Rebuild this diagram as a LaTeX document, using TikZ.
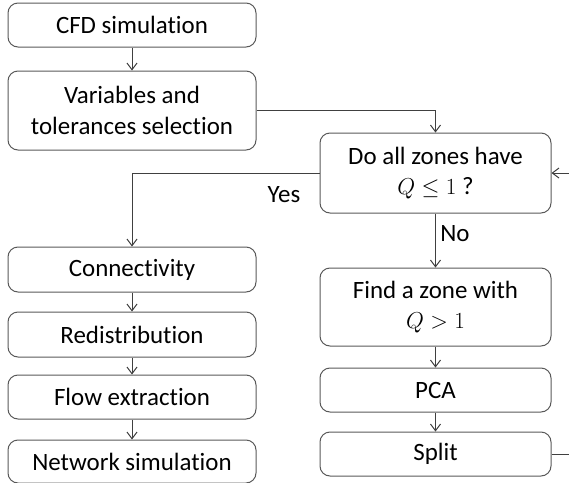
\documentclass[tikz,border=0pt]{standalone}
\usepackage{fontspec}
\setmainfont[Ligatures={NoCommon}]{Carlito}
\usepackage{amsmath}
\usetikzlibrary{arrows.meta,positioning}
\definecolor{frame}{RGB}{89,89,89}
\definecolor{wire}{RGB}{64,64,64}

\tikzset{
  stepbox/.style={draw=frame, line width=0.75pt, rounded corners=7.5pt, align=center,
    inner sep=0pt, font=\fontsize{18.7}{23}\selectfont},
  leftbox/.style={stepbox, minimum width=186pt},
  rightbox/.style={stepbox, minimum width=173.25pt},
  link/.style={draw=wire, line width=0.75pt, -{Straight Barb[length=5pt,width=7.5pt]}},
  lbl/.style={inner sep=0pt, font=\fontsize{18.7}{23}\selectfont}
}

\begin{document}
\begin{tikzpicture}[x=0.75pt,y=0.75pt,yscale=-1,xscale=1]
	\useasboundingbox (0,0) rectangle (569,483);

	% left column
	\node [leftbox, minimum height=33pt] (cfd) at (132,25) {CFD simulation};
	\node [leftbox, minimum height=59.25pt] (vars) at (132,110.5) {Variables and\\tolerances selection};
	\node [leftbox, minimum height=33.75pt] (conn) at (132,269.5) {Connectivity};
	\node [leftbox, minimum height=33.75pt] (redis) at (132,334.5) {Redistribution};
	\node [leftbox, minimum height=33pt] (flow) at (132,397) {Flow extraction};
	\node [leftbox, minimum height=32.25pt] (net) at (132,461.5) {Network simulation};

	% right column
	\node [rightbox, minimum height=60pt] (check) at (435.5,173) {Do all zones have\\$Q \leq 1$ ?};
	\node [rightbox, minimum height=58.5pt] (find) at (435.5,307) {Find a zone with\\$Q > 1$};
	\node [rightbox, minimum height=33pt] (pca) at (435.5,390) {PCA};
	\node [rightbox, minimum height=33pt] (split) at (435.5,454) {Split};

	\node [lbl] (yes) at (284,195) {Yes};
	\node [lbl] (no) at (455,234) {No};

	\draw [link] (cfd) -- (vars);
	\draw [link] (vars.east) -| (check.north);
	\draw [link] (check.west) -| (conn.north);
	\draw [link] (conn) -- (redis);
	\draw [link] (redis) -- (flow);
	\draw [link] (flow) -- (net);
	\draw [link] (check) -- (find);
	\draw [link] (find) -- (pca);
	\draw [link] (pca) -- (split);
	% loop back, runs just past the right edge
	\draw [link] (split.east) -- ++(22,0) |- (check.east);
\end{tikzpicture}
\end{document}
